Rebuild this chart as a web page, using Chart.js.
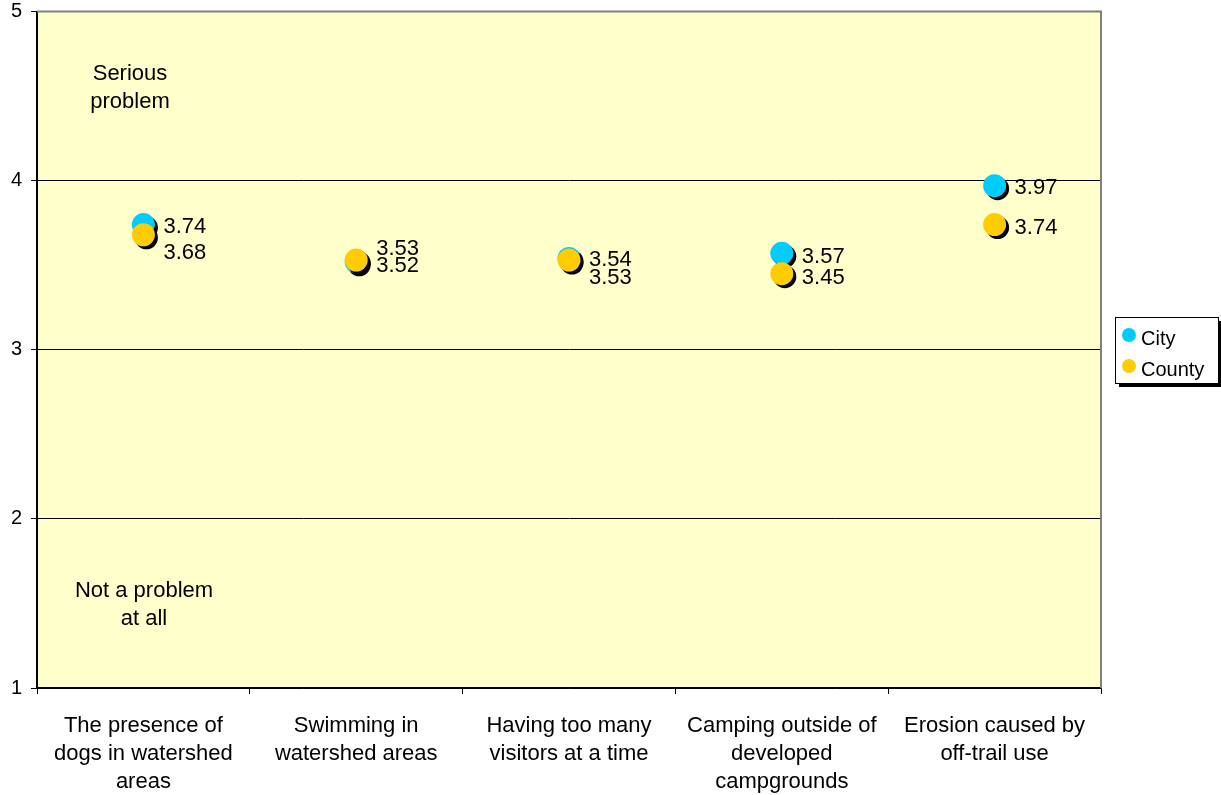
<!DOCTYPE html>
<html>
<head>
<meta charset="utf-8">
<script src="https://cdn.jsdelivr.net/npm/chart.js@4.4.1/dist/chart.umd.min.js"></script>
<style>
  body { margin: 0; background: #fff; }
  #wrap { width: 1221px; height: 795px; }
</style>
</head>
<body>
<div id="wrap"><canvas id="chart" width="1221" height="795"></canvas></div>
<script>
const categories = [
  ['The presence of', 'dogs in watershed', 'areas'],
  ['Swimming in', 'watershed areas'],
  ['Having too many', 'visitors at a time'],
  ['Camping outside of', 'developed', 'campgrounds'],
  ['Erosion caused by', 'off-trail use']
];
const cityValues = [3.74, 3.52, 3.54, 3.57, 3.97];
const countyValues = [3.68, 3.53, 3.53, 3.45, 3.74];
const yTicks = [1, 2, 3, 4, 5];

// vertical nudges of the value labels (px), as placed in the original
const cityLabelNudge = [2, 4, 2, 4, 2];
const countyLabelNudge = [18, -11, 18, 4, 3];

const FONT = "'Liberation Sans', Arial, sans-serif";
const CITY = '#00CCFF';
const COUNTY = '#FFCC00';

const chartDecor = {
  id: 'chartDecor',
  beforeDraw(chart) {
    const a = chart.chartArea;
    const ctx = chart.ctx;
    ctx.save();
    ctx.fillStyle = '#FFFFCC';
    ctx.fillRect(a.left, a.top, a.right - a.left, a.bottom - a.top);
    ctx.restore();
  },
  beforeDatasetsDraw(chart) {
    const a = chart.chartArea;
    const ctx = chart.ctx;
    ctx.save();
    ctx.strokeStyle = '#808080';
    ctx.lineWidth = 2;
    ctx.beginPath();
    ctx.moveTo(a.left, a.top);
    ctx.lineTo(a.right, a.top);
    ctx.lineTo(a.right, a.bottom);
    ctx.stroke();
    ctx.restore();
  },
  beforeDatasetDraw(chart, args) {
    const ctx = chart.ctx;
    ctx.save();
    ctx.fillStyle = '#000';
    args.meta.data.forEach(pt => {
      ctx.beginPath();
      ctx.arc(pt.x + 3, pt.y + 3, 11.5, 0, Math.PI * 2);
      ctx.fill();
    });
    ctx.restore();
  },
  afterDatasetsDraw(chart) {
    const ctx = chart.ctx;
    const a = chart.chartArea;
    ctx.save();
    ctx.font = '22px ' + FONT;
    ctx.fillStyle = '#000';
    ctx.textBaseline = 'middle';
    ctx.textAlign = 'left';
    const nudges = [cityLabelNudge, countyLabelNudge];
    chart.data.datasets.forEach((ds, i) => {
      const meta = chart.getDatasetMeta(i);
      meta.data.forEach((pt, j) => {
        ctx.fillText(ds.data[j].toFixed(2), pt.x + 20, pt.y + nudges[i][j]);
      });
    });

    // annotations
    ctx.textAlign = 'center';
    ctx.fillText('Serious', a.left + 93, 74);
    ctx.fillText('problem', a.left + 93, 102);
    ctx.fillText('Not a problem', a.left + 107, 591);
    ctx.fillText('at all', a.left + 107, 619);

    // legend
    const lx = 1115, ly = 317, lw = 103, lh = 66;
    ctx.fillStyle = '#000';
    ctx.fillRect(lx + 4, ly + 4, lw, lh);
    ctx.fillStyle = '#fff';
    ctx.fillRect(lx, ly, lw, lh);
    ctx.strokeStyle = '#000';
    ctx.lineWidth = 1;
    ctx.strokeRect(lx + 0.5, ly + 0.5, lw, lh);
    ctx.textAlign = 'left';
    ctx.font = '20px ' + FONT;
    [['City', CITY, 339], ['County', COUNTY, 370]].forEach(([t, c, y]) => {
      ctx.fillStyle = c;
      ctx.beginPath();
      ctx.arc(lx + 14, y - 4, 7, 0, Math.PI * 2);
      ctx.fill();
      ctx.fillStyle = '#000';
      ctx.fillText(t, lx + 26, y);
    });
    ctx.restore();
  }
};

new Chart(document.getElementById('chart'), {
  type: 'line',
  data: {
    labels: categories,
    datasets: [
      {
        label: 'City',
        data: cityValues,
        showLine: false,
        pointRadius: 11.5,
        pointHoverRadius: 11.5,
        pointBorderWidth: 0,
        pointBackgroundColor: CITY,
        order: 1
      },
      {
        label: 'County',
        data: countyValues,
        showLine: false,
        pointRadius: 11.5,
        pointHoverRadius: 11.5,
        pointBorderWidth: 0,
        pointBackgroundColor: COUNTY,
        order: 0
      }
    ]
  },
  options: {
    responsive: false,
    animation: false,
    events: [],
    layout: { padding: { top: 10, right: 120, left: 0, bottom: 0 } },
    plugins: {
      legend: { display: false },
      tooltip: { enabled: false }
    },
    scales: {
      x: {
        offset: true,
        grid: {
          display: true,
          offset: true,
          drawOnChartArea: false,
          tickLength: 6,
          color: '#000'
        },
        border: { color: '#000', width: 1.5 },
        ticks: {
          color: '#000',
          font: { family: FONT, size: 22, lineHeight: 1.27 },
          padding: 18,
          maxRotation: 0,
          autoSkip: false
        },
        afterFit(scale) {
          scale.height = 107;
          scale.paddingLeft = 0;
          scale.paddingRight = 0;
        }
      },
      y: {
        min: 1,
        max: 5,
        afterBuildTicks(scale) {
          scale.ticks = yTicks.map(v => ({ value: v }));
        },
        grid: {
          color: c => (c.tick && c.tick.value === 5 ? '#808080' : '#000'),
          tickColor: '#000',
          tickLength: 6,
          lineWidth: 1
        },
        border: { color: '#000', width: 2 },
        ticks: {
          color: '#000',
          font: { family: FONT, size: 20 },
          padding: 9
        },
        afterFit(scale) {
          scale.width = 37;
          scale.paddingTop = 0;
          scale.paddingBottom = 0;
        }
      }
    }
  },
  plugins: [chartDecor]
});
</script>
</body>
</html>
